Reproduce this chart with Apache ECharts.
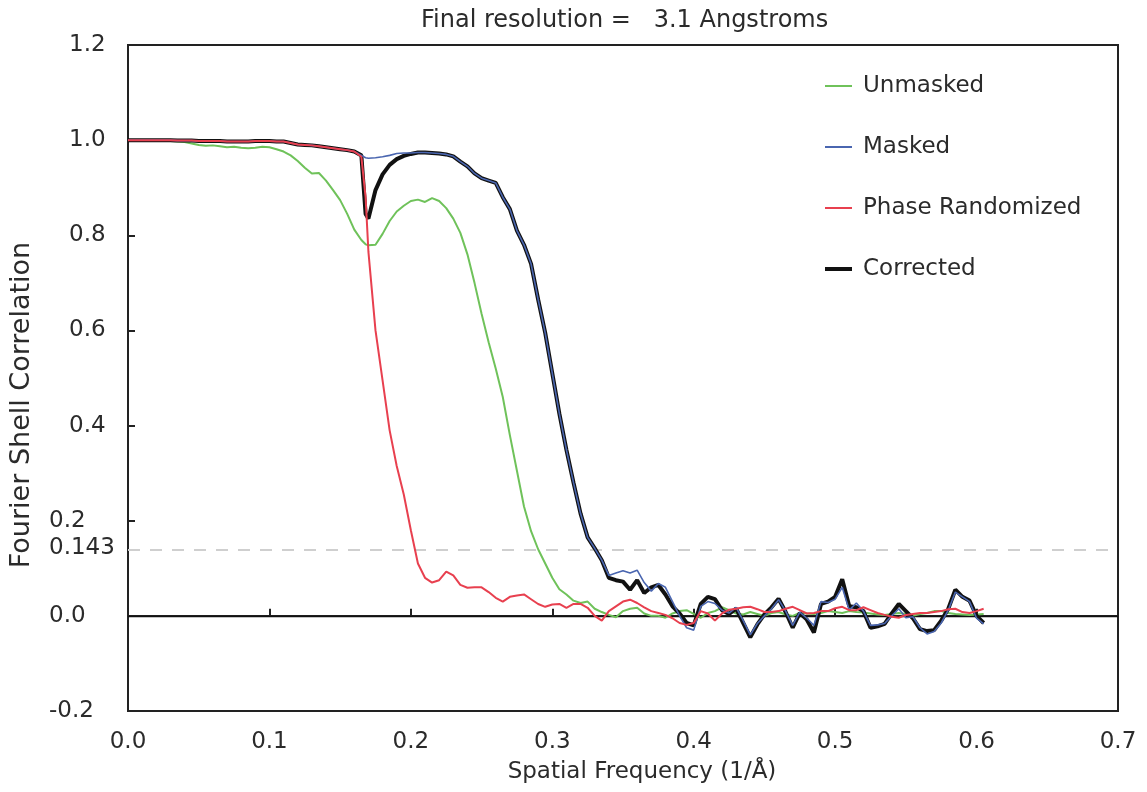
<!DOCTYPE html>
<html>
<head>
<meta charset="utf-8">
<script src="https://cdn.jsdelivr.net/npm/echarts@6/dist/echarts.min.js"></script>
<style>
html,body{margin:0;padding:0;background:#fff;}
#chart{width:1147px;height:792px;}
</style>
</head>
<body>
<div id="chart"></div>
<script>
// Spatial frequency (1/Å)
const freq = [
  0.000,0.005,0.010,0.015,0.020,0.025,0.030,0.035,0.040,0.045,
  0.050,0.055,0.060,0.065,0.070,0.075,0.080,0.085,0.090,0.095,
  0.100,0.105,0.110,0.115,0.120,0.125,0.130,0.135,0.140,0.145,
  0.150,0.155,0.160,0.165,
  0.168,
  0.170,0.175,0.180,0.185,0.190,0.195,
  0.200,0.205,0.210,0.215,0.220,0.225,0.230,0.235,0.240,0.245,
  0.250,0.255,0.260,0.265,0.270,0.275,0.280,0.285,0.290,0.295,
  0.300,0.305,0.310,0.315,0.320,0.325,0.330,0.335,0.340,0.345,
  0.350,0.355,0.360,0.365,0.370,0.375,0.380,0.385,0.390,0.395,
  0.400,0.405,0.410,0.415,0.420,0.425,0.430,0.435,0.440,0.445,
  0.450,0.455,0.460,0.465,0.470,0.475,0.480,0.485,0.490,0.495,
  0.500,0.505,0.510,0.515,0.520,0.525,0.530,0.535,0.540,0.545,
  0.550,0.555,0.560,0.565,0.570,0.575,0.580,0.585,0.590,0.595,
  0.600,0.605
];

const unmasked = [
  1.000,1.000,1.000,1.000,0.999,0.999,0.998,0.997,0.996,0.993,
  0.990,0.988,0.989,0.987,0.985,0.986,0.984,0.983,0.984,0.986,
  0.985,0.981,0.976,0.968,0.956,0.942,0.930,0.931,0.915,0.895,
  0.874,0.845,0.812,0.790,
  0.781,
  0.779,0.780,0.803,0.830,0.850,0.862,
  0.872,0.875,0.870,0.878,0.872,0.857,0.835,0.805,0.760,0.700,
  0.635,0.575,0.520,0.460,0.380,0.305,0.230,0.178,0.140,0.110,
  0.080,0.056,0.045,0.032,0.027,0.030,0.015,0.008,0.002,-0.003,
  0.010,0.015,0.017,0.005,0.000,0.000,-0.004,0.005,0.010,0.012,
  0.004,-0.004,0.006,0.010,0.018,0.012,0.005,0.003,0.008,0.004,
  0.000,0.006,0.008,0.003,0.000,0.006,0.005,0.004,0.006,0.010,
  0.008,0.006,0.010,0.008,0.007,0.005,0.003,0.002,0.004,0.006,
  0.004,0.000,0.004,0.006,0.010,0.010,0.006,0.004,0.003,0.002,
  0.003,0.004
];

const masked = [
  1.000,1.000,1.000,1.000,1.000,1.000,1.000,0.999,0.999,0.999,
  0.998,0.998,0.998,0.998,0.997,0.997,0.997,0.997,0.998,0.998,
  0.998,0.997,0.997,0.994,0.991,0.990,0.989,0.987,0.985,0.983,
  0.981,0.979,0.976,0.968,
  0.963,
  0.962,0.963,0.965,0.968,0.972,0.973,
  0.973,0.974,0.974,0.973,0.972,0.970,0.966,0.955,0.945,0.930,
  0.920,0.915,0.910,0.880,0.855,0.810,0.780,0.740,0.665,0.595,
  0.510,0.425,0.349,0.280,0.215,0.165,0.142,0.117,0.085,0.090,
  0.095,0.090,0.096,0.070,0.052,0.068,0.060,0.030,0.000,-0.025,
  -0.030,0.020,0.030,0.026,0.012,0.006,0.018,-0.010,-0.040,-0.016,
  0.000,0.015,0.034,0.010,-0.020,0.008,-0.005,-0.020,0.030,0.028,
  0.035,0.060,0.012,0.027,0.010,-0.020,-0.019,-0.016,0.000,0.015,
  -0.004,-0.002,-0.025,-0.038,-0.033,-0.015,0.012,0.050,0.040,0.030,
  -0.005,-0.017
];

const phaseRandomized = [
  1.000,1.000,1.000,1.000,1.000,1.000,1.000,0.999,0.999,0.999,
  0.998,0.998,0.998,0.998,0.997,0.997,0.997,0.997,0.998,0.998,
  0.998,0.997,0.997,0.994,0.991,0.990,0.989,0.987,0.985,0.983,
  0.981,0.979,0.976,0.965,
  0.880,
  0.765,0.600,0.495,0.390,0.315,0.255,
  0.180,0.110,0.080,0.070,0.075,0.093,0.085,0.065,0.059,0.060,
  0.060,0.050,0.038,0.030,0.040,0.043,0.045,0.035,0.025,0.019,
  0.024,0.025,0.017,0.025,0.025,0.017,0.000,-0.010,0.010,0.020,
  0.030,0.034,0.027,0.018,0.010,0.006,0.002,-0.005,-0.015,-0.019,
  -0.015,0.010,0.005,-0.010,0.005,0.013,0.015,0.018,0.019,0.014,
  0.008,0.008,0.010,0.015,0.019,0.012,0.005,0.006,0.010,0.010,
  0.016,0.019,0.012,0.012,0.018,0.012,0.006,0.002,-0.002,-0.004,
  0.002,0.004,0.006,0.006,0.008,0.010,0.014,0.015,0.008,0.006,
  0.010,0.015
];

const corrected = [
  1.000,1.000,1.000,1.000,1.000,1.000,1.000,0.999,0.999,0.999,
  0.998,0.998,0.998,0.998,0.997,0.997,0.997,0.997,0.998,0.998,
  0.998,0.997,0.997,0.994,0.991,0.990,0.989,0.987,0.985,0.983,
  0.981,0.979,0.976,0.968,
  0.845,
  0.835,0.895,0.928,0.948,0.960,0.967,
  0.971,0.974,0.974,0.973,0.972,0.970,0.966,0.955,0.945,0.930,
  0.920,0.915,0.910,0.880,0.855,0.810,0.780,0.740,0.665,0.595,
  0.510,0.425,0.349,0.280,0.215,0.165,0.142,0.117,0.080,0.075,
  0.072,0.055,0.075,0.048,0.060,0.065,0.045,0.020,0.005,-0.015,
  -0.020,0.025,0.040,0.035,0.012,0.004,0.015,-0.015,-0.045,-0.018,
  0.003,0.018,0.036,0.008,-0.025,0.006,-0.008,-0.035,0.025,0.030,
  0.040,0.077,0.020,0.018,0.010,-0.025,-0.022,-0.017,0.005,0.025,
  0.010,-0.005,-0.028,-0.032,-0.030,-0.010,0.015,0.055,0.040,0.032,
  0.000,-0.015
];

const seriesNames = ['Unmasked', 'Masked', 'Phase Randomized', 'Corrected'];
const xTickValues = [0.0, 0.1, 0.2, 0.3, 0.4, 0.5, 0.6, 0.7];
const yTickValues = [-0.2, 0.0, 0.143, 0.2, 0.4, 0.6, 0.8, 1.0, 1.2];
const yTickLabels = ['-0.2', '0.0', '0.143', '0.2', '0.4', '0.6', '0.8', '1.0', '1.2'];
const thresholdValue = 0.143;
const titleText = 'Final resolution =   3.1 Angstroms';

const FONT = 'DejaVu Sans';
const TXT = '#2b2b2b';

function pairs(vals) { return freq.map((f, i) => [f, vals[i]]); }

// legend line icons (thin line, thicker for Corrected), bbox padded to itemWidth x itemHeight
const thinIcon = 'path://M0,0L0.01,0L0,0.01Z M0,6H27V8H0Z M27,14L26.99,14L27,13.99Z';
const thickIcon = 'path://M0,0L0.01,0L0,0.01Z M0,5H27V9H0Z M27,14L26.99,14L27,13.99Z';

const chart = echarts.init(document.getElementById('chart'), null, {renderer: 'canvas'});

chart.setOption({
  animation: false,
  backgroundColor: '#ffffff',
  title: {
    text: titleText,
    left: 421, top: 9, padding: 0,
    textStyle: {fontFamily: FONT, fontSize: 24, fontWeight: 'normal', color: TXT}
  },
  legend: {
    orient: 'vertical',
    left: 825, top: 72, padding: 0,
    itemWidth: 27, itemHeight: 14,
    itemGap: 33,
    data: [
      {name: seriesNames[0], icon: thinIcon},
      {name: seriesNames[1], icon: thinIcon},
      {name: seriesNames[2], icon: thinIcon},
      {name: seriesNames[3], icon: thickIcon}
    ],
    textStyle: {fontFamily: FONT, fontSize: 23, color: TXT, padding: [0, 0, 0, 6], lineHeight: 28}
  },
  grid: {
    left: 128, right: 29, top: 45, bottom: 81,
    show: true, borderColor: '#222', borderWidth: 2, backgroundColor: 'transparent'
  },
  xAxis: {
    type: 'value', min: 0, max: 0.7, interval: 0.1,
    name: 'Spatial Frequency (1/Å)',
    nameLocation: 'middle', nameGap: 50,
    nameTextStyle: {fontFamily: FONT, fontSize: 23, color: TXT, padding: [0, 0, 0, 38]},
    axisLine: {show: true, lineStyle: {color: '#222', width: 2}},
    axisTick: {show: true, inside: true, length: 7, lineStyle: {color: '#222', width: 2},
               customValues: xTickValues},
    splitLine: {show: false},
    axisLabel: {fontFamily: FONT, fontSize: 23, color: TXT, margin: 20,
                customValues: xTickValues,
                formatter: v => v.toFixed(1)}
  },
  yAxis: {
    type: 'value', min: -0.2, max: 1.2, interval: 0.2,
    name: 'Fourier Shell Correlation',
    nameLocation: 'middle', nameGap: 93,
    nameTextStyle: {fontFamily: FONT, fontSize: 27, color: TXT, padding: [0, 54, 0, 0]},
    axisLine: {show: true, lineStyle: {color: '#222', width: 2}},
    axisTick: {show: true, inside: true, length: 7, lineStyle: {color: '#222', width: 2}},
    splitLine: {show: false},
    axisLabel: {fontFamily: FONT, fontSize: 23, color: TXT, margin: 79, align: 'left',
                customValues: yTickValues,
                formatter: v => {
                  const i = yTickValues.findIndex(t => Math.abs(t - v) < 1e-6);
                  if (i < 0) return '';
                  return (v > 0.3 ? '{hi|' : '{lo|') + yTickLabels[i] + '}';
                },
                rich: {
                  hi: {fontFamily: FONT, fontSize: 23, color: TXT, padding: [0, 0, 0, 20]},
                  lo: {fontFamily: FONT, fontSize: 23, color: TXT}
                }}
  },
  series: [
    {
      name: 'Unmasked', type: 'line', data: pairs(unmasked),
      showSymbol: false, symbol: 'none', z: 2,
      lineStyle: {color: '#6fc25a', width: 2},
      itemStyle: {color: '#6fc25a'},
      markLine: {
        silent: true, symbol: 'none', z: 1,
        label: {show: false},
        data: [
          {yAxis: 0, lineStyle: {color: '#111', width: 1.3, type: 'solid'}},
          {yAxis: thresholdValue, lineStyle: {color: '#cfcfcf', width: 2, type: [12, 10]}}
        ]
      }
    },
    {
      name: 'Corrected', type: 'line', data: pairs(corrected),
      showSymbol: false, symbol: 'none', z: 3,
      lineStyle: {color: '#111', width: 4},
      itemStyle: {color: '#111'}
    },
    {
      name: 'Masked', type: 'line', data: pairs(masked),
      showSymbol: false, symbol: 'none', z: 4,
      lineStyle: {color: '#4a66b0', width: 1.6},
      itemStyle: {color: '#4a66b0'}
    },
    {
      name: 'Phase Randomized', type: 'line', data: pairs(phaseRandomized),
      showSymbol: false, symbol: 'none', z: 5,
      lineStyle: {color: '#e8404f', width: 2},
      itemStyle: {color: '#e8404f'}
    }
  ]
});
</script>
</body>
</html>
